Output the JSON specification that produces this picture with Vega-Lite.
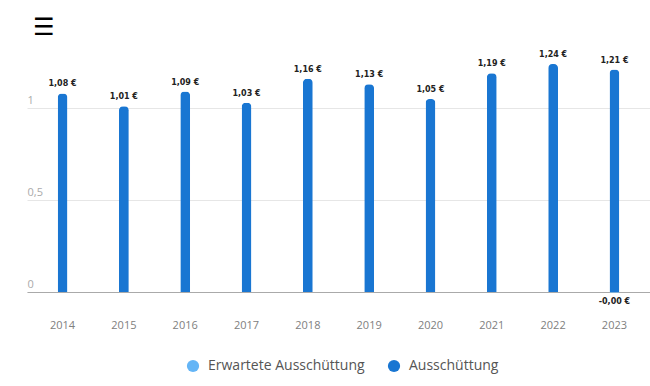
{
  "$schema": "https://vega.github.io/schema/vega-lite/v6.json",
  "autosize": "none",
  "width": 623,
  "height": 239,
  "padding": {"left": 27, "top": 53, "right": 0, "bottom": 94},
  "background": "white",
  "title": {"text": "☰", "anchor": "start", "font": "DejaVu Sans", "fontSize": 24, "fontWeight": "normal", "color": "#000", "dx": 6, "offset": 11},
  "data": {"values": [
    {"year": "2014", "typ": "Ausschüttung", "value": 1.08, "label": "1,08 €"},
    {"year": "2015", "typ": "Ausschüttung", "value": 1.01, "label": "1,01 €"},
    {"year": "2016", "typ": "Ausschüttung", "value": 1.09, "label": "1,09 €"},
    {"year": "2017", "typ": "Ausschüttung", "value": 1.03, "label": "1,03 €"},
    {"year": "2018", "typ": "Ausschüttung", "value": 1.16, "label": "1,16 €"},
    {"year": "2019", "typ": "Ausschüttung", "value": 1.13, "label": "1,13 €"},
    {"year": "2020", "typ": "Ausschüttung", "value": 1.05, "label": "1,05 €"},
    {"year": "2021", "typ": "Ausschüttung", "value": 1.19, "label": "1,19 €"},
    {"year": "2022", "typ": "Ausschüttung", "value": 1.24, "label": "1,24 €"},
    {"year": "2023", "typ": "Ausschüttung", "value": 1.21, "label": "1,21 €"},
    {"year": "2023", "typ": "Erwartete Ausschüttung", "value": -0.004, "label": "-0,00 €"}
  ]},
  "encoding": {
    "x": {"field": "year", "type": "ordinal", "title": null,
      "scale": {"paddingInner": 0.84, "paddingOuter": 0.5},
      "axis": {"labelAngle": 0, "ticks": false, "domainColor": "#aaaaaa", "labelColor": "#808080", "labelFont": "Open Sans", "labelFontSize": 11, "labelPadding": 27, "grid": false}},
    "y": {"field": "value", "type": "quantitative", "title": null,
      "scale": {"domain": [0, 1.3], "nice": false},
      "axis": {"values": [0, 0.5, 1], "format": ".1~f", "domain": false, "ticks": false, "tickSize": 0, "labelAlign": "left", "labelBaseline": "bottom", "labelPadding": 0, "labelOffset": -3, "labelColor": "#aaaaaa", "labelFont": "Open Sans", "labelFontSize": 11, "gridColor": "#e6e6e6", "labelExpr": "replace(datum.label, '.', ',')"}}
  },
  "layer": [
    {
      "mark": {"type": "bar", "cornerRadiusEnd": 4},
      "encoding": {
        "color": {"field": "typ", "type": "nominal", "title": null,
          "scale": {"domain": ["Erwartete Ausschüttung", "Ausschüttung"], "range": ["#64b5f6", "#1976d2"]},
          "legend": {"orient": "none", "legendX": 159, "legendY": 306, "direction": "horizontal", "symbolType": "circle", "symbolSize": 150, "symbolStrokeWidth": 0, "labelFont": "Open Sans", "labelFontSize": 14, "labelColor": "#555555", "columnPadding": 22, "labelOffset": 8}}
      }
    },
    {
      "transform": [{"filter": "datum.value >= 0"}],
      "mark": {"type": "text", "baseline": "bottom", "dy": -5, "font": "DejaVu Sans", "fontWeight": "bold", "fontSize": 8, "color": "#222222"},
      "encoding": {"text": {"field": "label"}}
    },
    {
      "transform": [{"filter": "datum.value < 0"}],
      "mark": {"type": "text", "baseline": "top", "dy": 5, "font": "DejaVu Sans", "fontWeight": "bold", "fontSize": 8, "color": "#222222"},
      "encoding": {"text": {"field": "label"}}
    }
  ],
  "config": {"view": {"stroke": null}}
}
